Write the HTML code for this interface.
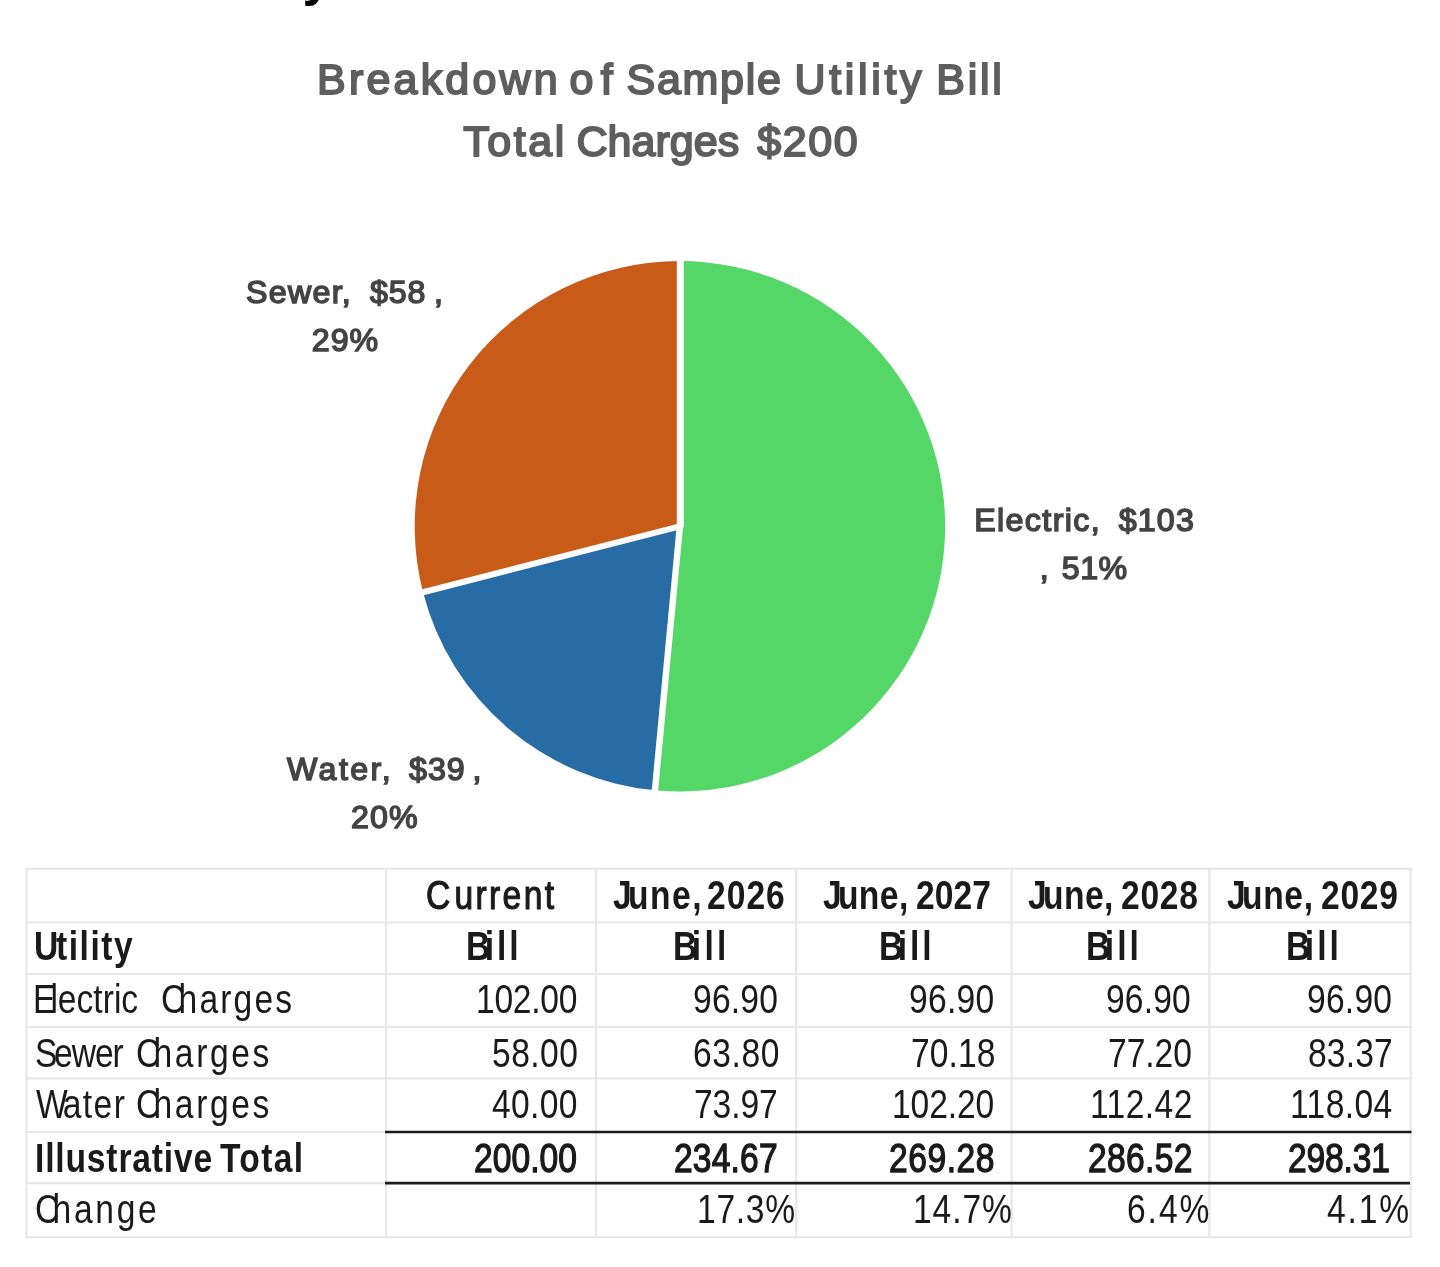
<!DOCTYPE html>
<html>
<head>
<meta charset="utf-8">
<title>Breakdown of Sample Utility Bill</title>
<style>
html,body{margin:0;padding:0;background:#fff;}
body{width:1440px;height:1267px;position:relative;overflow:hidden;font-family:"Liberation Sans",sans-serif;}
.t{position:absolute;white-space:nowrap;line-height:1;transform-origin:0 0;}
.title{color:#5e5e5e;font-size:43px;-webkit-text-stroke:1.9px #5e5e5e;}
.lab{color:#444;font-size:32.2px;-webkit-text-stroke:1.5px #444;}
#pie{position:absolute;left:0;top:0;filter:blur(0.7px);}
#hd{position:absolute;left:0;top:0;width:1440px;height:860px;filter:blur(0.75px);}

#tbl{position:absolute;left:0;top:0;width:1440px;height:1267px;font-size:40px;color:#1a1a1a;filter:blur(0.6px);}
.c{position:absolute;white-space:nowrap;line-height:1;transform-origin:0 0;transform:scaleX(0.84);}
.k::first-letter{letter-spacing:var(--f);}
.b{font-weight:bold;}
.sb{-webkit-text-stroke:var(--s) #1a1a1a;}
</style>
</head>
<body>
<div class="t" id="ycrop" style="left:302.5px;top:-49px;font-size:52px;font-weight:bold;color:#000;">y</div>
<div id="hd">
<!--H0-->
<div class="t title" style="left:317.09px;top:57.60px;letter-spacing:3.19px">Breakdown</div>
<div class="t title" style="left:569.61px;top:57.60px;letter-spacing:7.19px">of</div>
<div class="t title" style="left:626.61px;top:57.60px;letter-spacing:1.68px">Sample</div>
<div class="t title" style="left:794.51px;top:57.60px;letter-spacing:3.66px">Utility</div>
<div class="t title" style="left:936.34px;top:57.60px;letter-spacing:2.73px">Bill</div>
<div class="t title" style="left:463.28px;top:119.50px;letter-spacing:2.57px">Total</div>
<div class="t title" style="left:576.43px;top:119.50px;letter-spacing:0.03px">Charges</div>
<div class="t title" style="left:757.20px;top:119.50px;letter-spacing:1.59px">$200</div>
<div class="t lab" style="left:246.04px;top:276.44px;letter-spacing:1.27px">Sewer,</div>
<div class="t lab" style="left:369.95px;top:276.44px;letter-spacing:0.94px">$58</div>
<div class="t lab" style="left:434.03px;top:276.44px;letter-spacing:0.00px">,</div>
<div class="t lab" style="left:311.74px;top:324.44px;letter-spacing:1.01px">29%</div>
<div class="t lab" style="left:974.13px;top:503.94px;letter-spacing:1.39px">Electric,</div>
<div class="t lab" style="left:1118.75px;top:503.94px;letter-spacing:1.16px">$103</div>
<div class="t lab" style="left:1039.83px;top:552.14px;letter-spacing:0.00px">,</div>
<div class="t lab" style="left:1061.74px;top:552.14px;letter-spacing:0.51px">51%</div>
<div class="t lab" style="left:287.05px;top:752.74px;letter-spacing:2.39px">Water,</div>
<div class="t lab" style="left:409.05px;top:752.74px;letter-spacing:0.99px">$39</div>
<div class="t lab" style="left:472.43px;top:752.74px;letter-spacing:0.00px">,</div>
<div class="t lab" style="left:350.94px;top:800.54px;letter-spacing:1.16px">20%</div>
<!--H1-->
</div>

<svg id="pie" width="1440" height="860" viewBox="0 0 1440 860">
  <path fill="#55d768" d="M679.9 526.3L679.90 261.10A265.2 265.2 0 1 1 654.94 790.32Z"/>
  <path fill="#286ca6" d="M679.9 526.3L654.94 790.32A265.2 265.2 0 0 1 423.03 592.25Z"/>
  <path fill="#c95b18" d="M679.9 526.3L423.03 592.25A265.2 265.2 0 0 1 679.90 261.10Z"/>
  <g stroke="#ffffff" stroke-linecap="butt">
    <line x1="680.3" y1="527.3" x2="680.3" y2="259.09999999999997" stroke-width="7"/>
    <line x1="679.9" y1="526.3" x2="654.75" y2="792.31" stroke-width="6.4"/>
    <line x1="679.9" y1="526.3" x2="421.09" y2="592.75" stroke-width="6"/>
  </g>
  <circle cx="679.9" cy="526.3" r="3" fill="#fff"/>
</svg>

<div id="tbl">
<svg id="grid" width="1440" height="1267" viewBox="0 0 1440 1267" style="position:absolute;left:0;top:0"><g stroke="#e7e7e7" stroke-width="2.2" fill="none"><line x1="25.4" y1="868.8" x2="1411.8" y2="868.8"/><line x1="25.4" y1="922.5" x2="1411.8" y2="922.5"/><line x1="25.4" y1="974" x2="1411.8" y2="974"/><line x1="25.4" y1="1027" x2="1411.8" y2="1027"/><line x1="25.4" y1="1078.4" x2="1411.8" y2="1078.4"/><line x1="25.4" y1="1132" x2="1411.8" y2="1132"/><line x1="25.4" y1="1183.2" x2="1411.8" y2="1183.2"/><line x1="25.4" y1="1237.2" x2="1411.8" y2="1237.2"/><line x1="26.5" y1="868.8" x2="26.5" y2="1237.2"/><line x1="386" y1="868.8" x2="386" y2="1237.2"/><line x1="596" y1="868.8" x2="596" y2="1237.2"/><line x1="796.2" y1="868.8" x2="796.2" y2="1237.2"/><line x1="1011.7" y1="868.8" x2="1011.7" y2="1237.2"/><line x1="1209.3" y1="868.8" x2="1209.3" y2="1237.2"/><line x1="1410.7" y1="868.8" x2="1410.7" y2="1237.2"/></g><g stroke="#1c1c1c" stroke-width="2.7"><line x1="385" y1="1132" x2="1411.5" y2="1132"/><line x1="385" y1="1183.2" x2="1410" y2="1183.2"/></g></svg>
<div class="c sb k" style="left:426.41px;top:874.84px;letter-spacing:2.80px;--f:5px;--s:1.15px">Current</div>
<div class="c b k" style="left:612.50px;top:874.84px;letter-spacing:1.79px;--f:-4.5px">June,</div>
<div class="c b" style="left:707.25px;top:874.84px;letter-spacing:1.21px">2026</div>
<div class="c b k" style="left:822.50px;top:874.84px;letter-spacing:0.52px;--f:-4.5px">June,</div>
<div class="c b" style="left:916.45px;top:874.84px;letter-spacing:0.07px">2027</div>
<div class="c b k" style="left:1028.30px;top:874.84px;letter-spacing:0.56px;--f:-4.5px">June,</div>
<div class="c b" style="left:1120.65px;top:874.84px;letter-spacing:0.85px">2028</div>
<div class="c b k" style="left:1226.70px;top:874.84px;letter-spacing:0.84px;--f:-4.5px">June,</div>
<div class="c b" style="left:1321.45px;top:874.84px;letter-spacing:0.85px">2029</div>
<div class="c b k" style="left:34.42px;top:925.74px;letter-spacing:1.81px;--f:-2.7px">Utility</div>
<div class="c b k" style="left:466.20px;top:925.74px;letter-spacing:3.38px;--f:-6.5px">Bill</div>
<div class="c b k" style="left:672.90px;top:925.74px;letter-spacing:3.85px;--f:-6.5px">Bill</div>
<div class="c b k" style="left:879.20px;top:925.74px;letter-spacing:3.38px;--f:-6.5px">Bill</div>
<div class="c b k" style="left:1085.90px;top:925.74px;letter-spacing:3.56px;--f:-6.5px">Bill</div>
<div class="c b k" style="left:1286.20px;top:925.74px;letter-spacing:3.56px;--f:-6.5px">Bill</div>
<div class="c k" style="left:32.88px;top:979.34px;letter-spacing:0.01px;--f:-6px">Electric</div>
<div class="c k" style="left:160.93px;top:979.34px;letter-spacing:2.58px;--f:-8px">Charges</div>
<div class="c" style="left:476.20px;top:979.34px;letter-spacing:-0.34px">102.00</div>
<div class="c" style="left:693.42px;top:979.34px;letter-spacing:0.25px">96.90</div>
<div class="c" style="left:908.72px;top:979.34px;letter-spacing:0.31px">96.90</div>
<div class="c" style="left:1106.42px;top:979.34px;letter-spacing:0.19px">96.90</div>
<div class="c" style="left:1307.12px;top:979.34px;letter-spacing:0.28px">96.90</div>
<div class="c k" style="left:35.20px;top:1032.64px;letter-spacing:-1.26px;--f:-4px">Sewer</div>
<div class="c k" style="left:136.43px;top:1032.64px;letter-spacing:3.12px;--f:-8px">Charges</div>
<div class="c" style="left:491.65px;top:1032.64px;letter-spacing:0.54px">58.00</div>
<div class="c" style="left:692.82px;top:1032.64px;letter-spacing:0.69px">63.80</div>
<div class="c" style="left:910.62px;top:1032.64px;letter-spacing:0.11px">70.18</div>
<div class="c" style="left:1107.92px;top:1032.64px;letter-spacing:-0.05px">77.20</div>
<div class="c" style="left:1307.55px;top:1032.64px;letter-spacing:0.19px">83.37</div>
<div class="c k" style="left:36.25px;top:1084.34px;letter-spacing:1.72px;--f:-6px">Water</div>
<div class="c k" style="left:136.43px;top:1084.34px;letter-spacing:3.12px;--f:-8px">Charges</div>
<div class="c" style="left:491.98px;top:1084.34px;letter-spacing:0.44px">40.00</div>
<div class="c" style="left:694.42px;top:1084.34px;letter-spacing:-0.13px">73.97</div>
<div class="c" style="left:892.30px;top:1084.34px;letter-spacing:-0.13px">102.20</div>
<div class="c" style="left:1090.40px;top:1084.34px;letter-spacing:0.50px">112.42</div>
<div class="c" style="left:1290.40px;top:1084.34px;letter-spacing:0.47px">118.04</div>
<div class="c b" style="left:34.60px;top:1137.94px;letter-spacing:0.99px">Illustrative</div>
<div class="c b" style="left:220.00px;top:1137.94px;letter-spacing:1.55px">Total</div>
<div class="c sb" style="left:474.27px;top:1137.94px;letter-spacing:0.06px;--s:1.3px">200.00</div>
<div class="c sb" style="left:673.87px;top:1137.94px;letter-spacing:0.21px;--s:1.3px">234.67</div>
<div class="c sb" style="left:889.07px;top:1137.94px;letter-spacing:0.64px;--s:1.3px">269.28</div>
<div class="c sb" style="left:1088.07px;top:1137.94px;letter-spacing:0.42px;--s:1.3px">286.52</div>
<div class="c sb" style="left:1288.07px;top:1137.94px;letter-spacing:-0.20px;--s:1.3px">298.31</div>
<div class="c k" style="left:34.67px;top:1189.14px;letter-spacing:3.19px;--f:-8px">Change</div>
<div class="c" style="left:697.40px;top:1189.14px;letter-spacing:0.84px">17.3%</div>
<div class="c" style="left:912.60px;top:1189.14px;letter-spacing:1.11px">14.7%</div>
<div class="c" style="left:1126.52px;top:1189.14px;letter-spacing:2.30px">6.4%</div>
<div class="c" style="left:1326.77px;top:1189.14px;letter-spacing:2.20px">4.1%</div>
</div>
</body>
</html>
